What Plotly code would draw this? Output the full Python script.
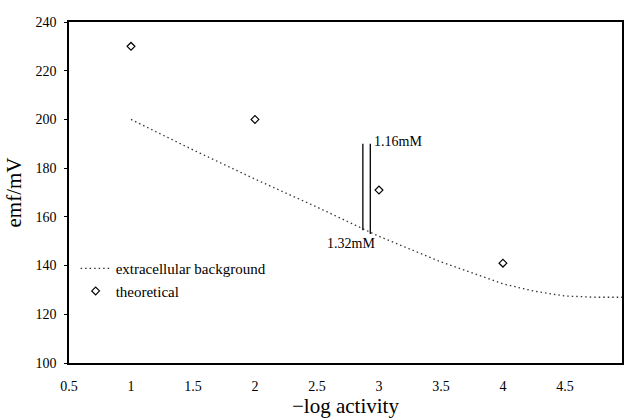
import plotly.graph_objects as go

bg_x = [1, 1.5, 2, 2.5, 3, 3.5, 4, 4.25, 4.5, 4.75, 4.96]
bg_y = [200, 187.5, 175.5, 164, 152, 141.5, 132.5, 129.5, 127.5, 127, 127]

th_x = [1, 2, 3, 4]
th_y = [230, 200, 171, 141]

bar1_x = [2.87, 2.87]
bar1_y = [190, 154.5]
bar2_x = [2.93, 2.93]
bar2_y = [190, 153]

lab_x = [2.945, 2.985]
lab_y = [191, 149]
lab_t = ["1.16mM", "1.32mM"]

FONT = "Liberation Serif"

fig = go.Figure()
fig.add_trace(go.Scatter(x=bg_x, y=bg_y, mode="lines", name="extracellular background",
                         line=dict(color="#333", width=1.3, dash="1.5px,3px")))
fig.add_trace(go.Scatter(x=th_x, y=th_y, mode="markers", name="theoretical",
                         marker=dict(symbol="diamond-open", size=6, color="black",
                                     line=dict(width=1.2, color="black"))))
fig.add_trace(go.Scatter(x=bar1_x, y=bar1_y, mode="lines", showlegend=False,
                         line=dict(color="black", width=1.3)))
fig.add_trace(go.Scatter(x=bar2_x, y=bar2_y, mode="lines", showlegend=False,
                         line=dict(color="black", width=1.3)))

fig.add_annotation(x=lab_x[0], y=lab_y[0], text=lab_t[0], showarrow=False,
                   xanchor="left", yanchor="middle", font=dict(family=FONT, size=14, color="black"))
fig.add_annotation(x=lab_x[1], y=lab_y[1], text=lab_t[1], showarrow=False,
                   xanchor="right", yanchor="middle", font=dict(family=FONT, size=14, color="black"))

fig.update_layout(
    width=624, height=420,
    margin=dict(l=69, r=0, t=22, b=57),
    plot_bgcolor="white", paper_bgcolor="white",
    font=dict(family=FONT, size=14, color="black"),
    legend=dict(x=0.012, y=0.325, xanchor="left", yanchor="top",
                font=dict(family=FONT, size=15), bgcolor="rgba(0,0,0,0)",
                itemwidth=30, tracegroupgap=4),
    xaxis=dict(range=[0.5, 4.96], tickmode="array",
               tickvals=[0.5, 1, 1.5, 2, 2.5, 3, 3.5, 4, 4.5],
               ticktext=["0.5", "1", "1.5", "2", "2.5", "3", "3.5", "4", "4.5"],
               showgrid=False, zeroline=False, showline=True, linecolor="black",
               linewidth=1.5, mirror=True, ticks="", ticklen=0, ticklabelstandoff=9,
               tickfont=dict(family=FONT, size=14),
               title=dict(text="\u2212log activity", font=dict(family=FONT, size=21), standoff=6)),
    yaxis=dict(range=[100, 240], tickvals=[100, 120, 140, 160, 180, 200, 220, 240],
               showgrid=False, zeroline=False, showline=True, linecolor="black",
               linewidth=1.5, mirror=True, ticks="outside", ticklen=3, tickcolor="black",
               ticklabelstandoff=5, tickfont=dict(family=FONT, size=14),
               title=dict(text="emf/mV", font=dict(family=FONT, size=21), standoff=8)),
)

fig.write_html("out.html")
